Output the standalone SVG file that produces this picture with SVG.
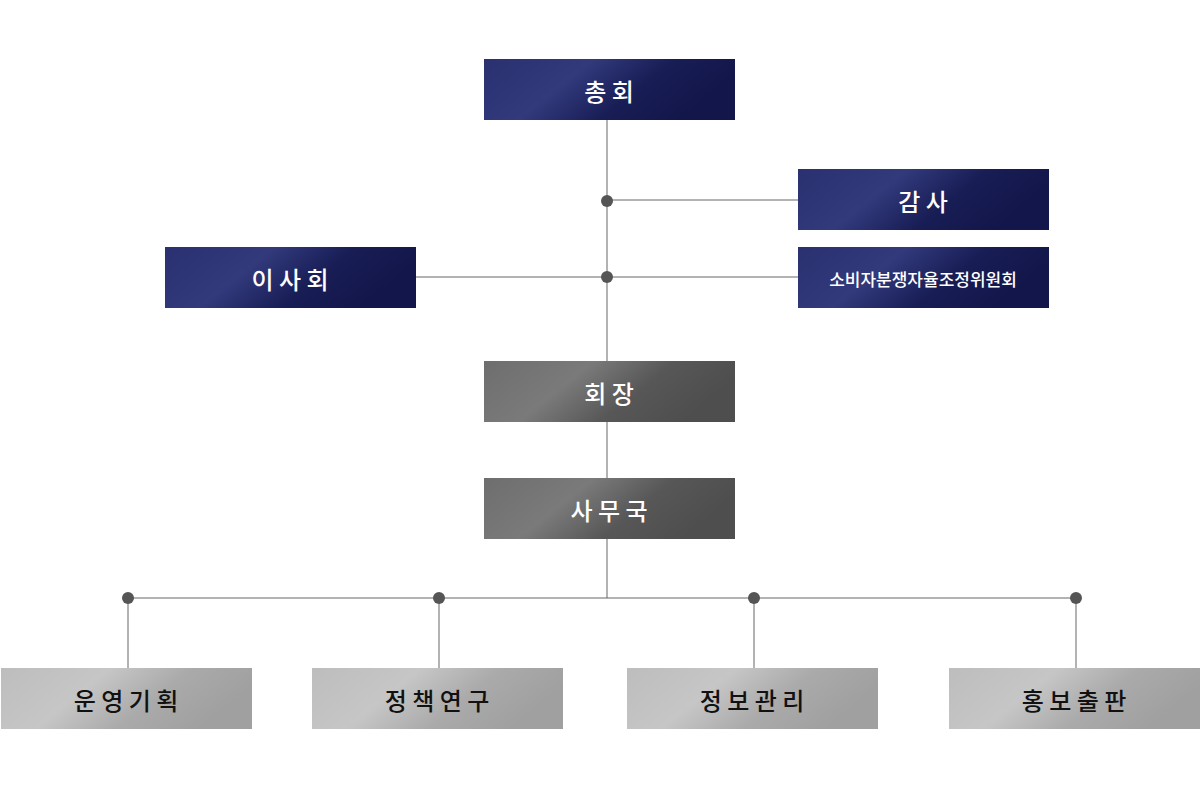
<svg xmlns="http://www.w3.org/2000/svg" width="1200" height="792" viewBox="0 0 1200 792">
<defs>
<linearGradient id="navy" x1="0" y1="0" x2="1" y2="0.3"><stop offset="0" stop-color="#2a3070"/><stop offset="0.4" stop-color="#323a7c"/><stop offset="0.7" stop-color="#181d55"/><stop offset="1" stop-color="#12164a"/></linearGradient>
<linearGradient id="gray" x1="0" y1="0" x2="1" y2="0.3"><stop offset="0" stop-color="#6e6e6e"/><stop offset="0.4" stop-color="#7a7a7a"/><stop offset="0.7" stop-color="#575757"/><stop offset="1" stop-color="#4e4e4e"/></linearGradient>
<linearGradient id="light" x1="0" y1="0" x2="1" y2="0.3"><stop offset="0" stop-color="#bdbdbd"/><stop offset="0.4" stop-color="#c6c6c6"/><stop offset="0.7" stop-color="#aaaaaa"/><stop offset="1" stop-color="#a0a0a0"/></linearGradient>
</defs>
<style>
text{font-family:"Noto Sans CJK KR","Noto Sans",sans-serif;font-size:24px;font-weight:500;text-anchor:middle;dominant-baseline:central}
.w{fill:#fff}.k{fill:#111}
.ln{stroke:#666;stroke-width:1;fill:none}
.dot{fill:#555}
</style>
<rect width="1200" height="792" fill="#fff"/>
<g id="connectors">
<path class="ln" d="M607 120V598M607 200H798M416 277H798M128 598H1076M128 598V668M439 598V668M754 598V668M1076 598V668"/>
<circle class="dot" cx="607" cy="201" r="6"/><circle class="dot" cx="607" cy="277" r="6"/>
<circle class="dot" cx="128" cy="598" r="6"/><circle class="dot" cx="439" cy="598" r="6"/><circle class="dot" cx="754" cy="598" r="6"/><circle class="dot" cx="1076" cy="598" r="6"/>
</g>
<g id="n1"><rect x="484" y="59" width="251" height="61" fill="url(#navy)"/><text class="w" x="609" y="90">총  회</text></g>
<g id="n2"><rect x="798" y="169" width="251" height="61" fill="url(#navy)"/><text class="w" x="923" y="200">감  사</text></g>
<g id="n3"><rect x="165" y="247" width="251" height="61" fill="url(#navy)"/><text class="w" x="290" y="278">이  사  회</text></g>
<g id="n4"><rect x="798" y="247" width="251" height="61" fill="url(#navy)"/><text class="w" x="923" y="278" style="font-size:17px">소비자분쟁자율조정위원회</text></g>
<g id="n5"><rect x="484" y="361" width="251" height="61" fill="url(#gray)"/><text class="w" x="609" y="392">회  장</text></g>
<g id="n6"><rect x="484" y="478" width="251" height="61" fill="url(#gray)"/><text class="w" x="609" y="509">사  무  국</text></g>
<g id="n7"><rect x="1" y="668" width="251" height="61" fill="url(#light)"/><text class="k" x="126" y="699">운 영 기 획</text></g>
<g id="n8"><rect x="312" y="668" width="251" height="61" fill="url(#light)"/><text class="k" x="437" y="699">정 책 연 구</text></g>
<g id="n9"><rect x="627" y="668" width="251" height="61" fill="url(#light)"/><text class="k" x="752" y="699">정 보 관 리</text></g>
<g id="n10"><rect x="949" y="668" width="251" height="61" fill="url(#light)"/><text class="k" x="1074" y="699">홍 보 출 판</text></g>
</svg>
